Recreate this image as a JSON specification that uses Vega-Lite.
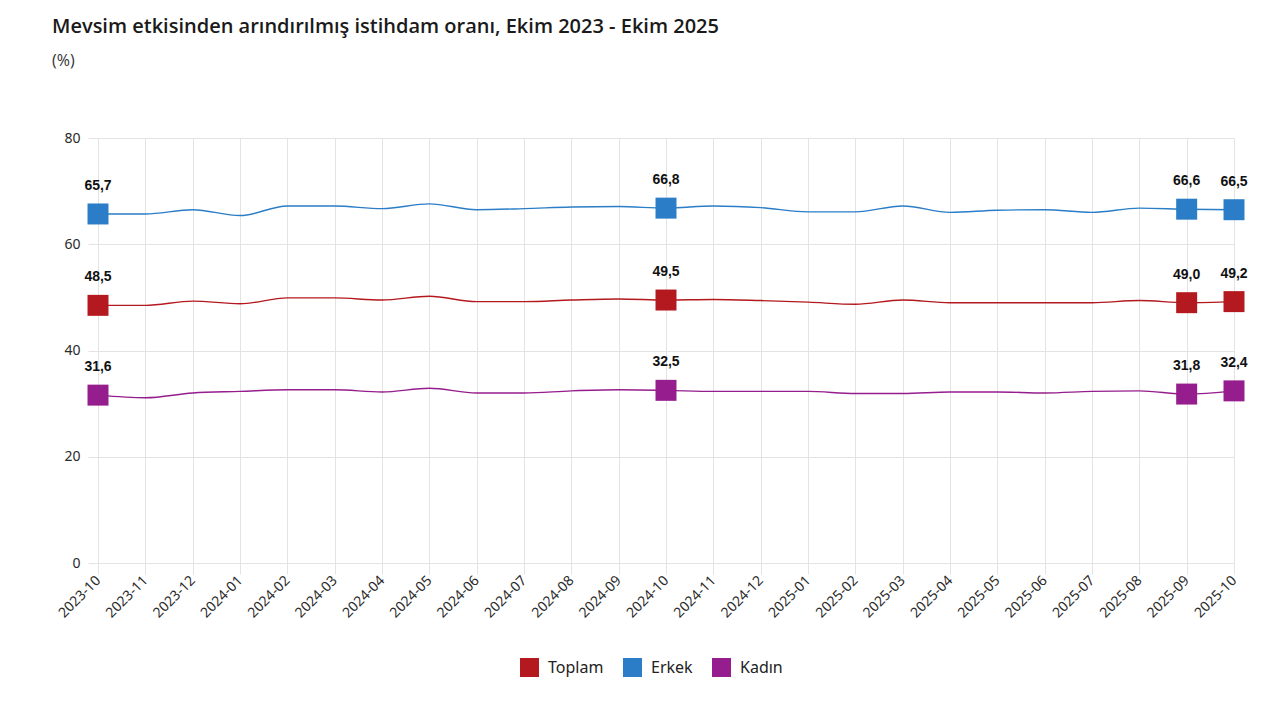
{
  "$schema": "https://vega.github.io/schema/vega-lite/v6.json",
  "autosize": {"type": "none"},
  "padding": {"left": 98, "top": 138, "right": 46, "bottom": 140},
  "width": 1136,
  "height": 425,
  "background": "white",
  "title": {
    "text": "Mevsim etkisinden arındırılmış istihdam oranı, Ekim 2023 - Ekim 2025",
    "subtitle": "(%)",
    "anchor": "start",
    "frame": "group",
    "dx": -46,
    "offset": 62,
    "font": "Open Sans",
    "fontSize": 20,
    "fontWeight": 600,
    "color": "#1a1a1a",
    "subtitleFont": "Open Sans",
    "subtitleFontSize": 16,
    "subtitleColor": "#333333",
    "subtitlePadding": 16
  },
  "data": {
    "values": [
      {"ay": "2023-10", "seri": "Toplam", "deger": 48.5},
      {"ay": "2023-11", "seri": "Toplam", "deger": 48.5},
      {"ay": "2023-12", "seri": "Toplam", "deger": 49.3},
      {"ay": "2024-01", "seri": "Toplam", "deger": 48.8},
      {"ay": "2024-02", "seri": "Toplam", "deger": 49.9},
      {"ay": "2024-03", "seri": "Toplam", "deger": 49.9},
      {"ay": "2024-04", "seri": "Toplam", "deger": 49.5},
      {"ay": "2024-05", "seri": "Toplam", "deger": 50.2},
      {"ay": "2024-06", "seri": "Toplam", "deger": 49.2},
      {"ay": "2024-07", "seri": "Toplam", "deger": 49.2},
      {"ay": "2024-08", "seri": "Toplam", "deger": 49.5},
      {"ay": "2024-09", "seri": "Toplam", "deger": 49.7},
      {"ay": "2024-10", "seri": "Toplam", "deger": 49.5},
      {"ay": "2024-11", "seri": "Toplam", "deger": 49.6},
      {"ay": "2024-12", "seri": "Toplam", "deger": 49.4},
      {"ay": "2025-01", "seri": "Toplam", "deger": 49.1},
      {"ay": "2025-02", "seri": "Toplam", "deger": 48.7},
      {"ay": "2025-03", "seri": "Toplam", "deger": 49.5},
      {"ay": "2025-04", "seri": "Toplam", "deger": 49.0},
      {"ay": "2025-05", "seri": "Toplam", "deger": 49.0},
      {"ay": "2025-06", "seri": "Toplam", "deger": 49.0},
      {"ay": "2025-07", "seri": "Toplam", "deger": 49.0},
      {"ay": "2025-08", "seri": "Toplam", "deger": 49.4},
      {"ay": "2025-09", "seri": "Toplam", "deger": 49.0},
      {"ay": "2025-10", "seri": "Toplam", "deger": 49.2},
      {"ay": "2023-10", "seri": "Erkek", "deger": 65.7},
      {"ay": "2023-11", "seri": "Erkek", "deger": 65.7},
      {"ay": "2023-12", "seri": "Erkek", "deger": 66.5},
      {"ay": "2024-01", "seri": "Erkek", "deger": 65.4},
      {"ay": "2024-02", "seri": "Erkek", "deger": 67.2},
      {"ay": "2024-03", "seri": "Erkek", "deger": 67.2},
      {"ay": "2024-04", "seri": "Erkek", "deger": 66.7},
      {"ay": "2024-05", "seri": "Erkek", "deger": 67.6},
      {"ay": "2024-06", "seri": "Erkek", "deger": 66.5},
      {"ay": "2024-07", "seri": "Erkek", "deger": 66.7},
      {"ay": "2024-08", "seri": "Erkek", "deger": 67.0},
      {"ay": "2024-09", "seri": "Erkek", "deger": 67.1},
      {"ay": "2024-10", "seri": "Erkek", "deger": 66.8},
      {"ay": "2024-11", "seri": "Erkek", "deger": 67.2},
      {"ay": "2024-12", "seri": "Erkek", "deger": 66.9},
      {"ay": "2025-01", "seri": "Erkek", "deger": 66.1},
      {"ay": "2025-02", "seri": "Erkek", "deger": 66.1},
      {"ay": "2025-03", "seri": "Erkek", "deger": 67.2},
      {"ay": "2025-04", "seri": "Erkek", "deger": 66.0},
      {"ay": "2025-05", "seri": "Erkek", "deger": 66.4},
      {"ay": "2025-06", "seri": "Erkek", "deger": 66.5},
      {"ay": "2025-07", "seri": "Erkek", "deger": 66.0},
      {"ay": "2025-08", "seri": "Erkek", "deger": 66.8},
      {"ay": "2025-09", "seri": "Erkek", "deger": 66.6},
      {"ay": "2025-10", "seri": "Erkek", "deger": 66.5},
      {"ay": "2023-10", "seri": "Kadın", "deger": 31.6},
      {"ay": "2023-11", "seri": "Kadın", "deger": 31.1},
      {"ay": "2023-12", "seri": "Kadın", "deger": 32.0},
      {"ay": "2024-01", "seri": "Kadın", "deger": 32.3},
      {"ay": "2024-02", "seri": "Kadın", "deger": 32.6},
      {"ay": "2024-03", "seri": "Kadın", "deger": 32.6},
      {"ay": "2024-04", "seri": "Kadın", "deger": 32.2},
      {"ay": "2024-05", "seri": "Kadın", "deger": 32.9},
      {"ay": "2024-06", "seri": "Kadın", "deger": 32.0},
      {"ay": "2024-07", "seri": "Kadın", "deger": 32.0},
      {"ay": "2024-08", "seri": "Kadın", "deger": 32.4},
      {"ay": "2024-09", "seri": "Kadın", "deger": 32.6},
      {"ay": "2024-10", "seri": "Kadın", "deger": 32.5},
      {"ay": "2024-11", "seri": "Kadın", "deger": 32.3},
      {"ay": "2024-12", "seri": "Kadın", "deger": 32.3},
      {"ay": "2025-01", "seri": "Kadın", "deger": 32.3},
      {"ay": "2025-02", "seri": "Kadın", "deger": 31.9},
      {"ay": "2025-03", "seri": "Kadın", "deger": 31.9},
      {"ay": "2025-04", "seri": "Kadın", "deger": 32.2},
      {"ay": "2025-05", "seri": "Kadın", "deger": 32.2},
      {"ay": "2025-06", "seri": "Kadın", "deger": 32.0},
      {"ay": "2025-07", "seri": "Kadın", "deger": 32.3},
      {"ay": "2025-08", "seri": "Kadın", "deger": 32.4},
      {"ay": "2025-09", "seri": "Kadın", "deger": 31.8},
      {"ay": "2025-10", "seri": "Kadın", "deger": 32.4}
    ]
  },
  "encoding": {
    "x": {
      "field": "ay",
      "type": "ordinal",
      "sort": null,
      "title": null,
      "scale": {"type": "point", "padding": 0},
      "axis": {
        "labelAngle": -45,
        "labelAlign": "right",
        "labelBaseline": "middle",
        "labelFont": "Noto Sans",
        "labelFontSize": 14,
        "labelColor": "#2a2a2a",
        "labelPadding": 4,
        "grid": true,
        "gridColor": "#e3e3e3",
        "domain": false,
        "tickColor": "#e3e3e3",
        "tickSize": 11
      }
    },
    "y": {
      "field": "deger",
      "type": "quantitative",
      "title": null,
      "scale": {"domain": [0, 80], "nice": false, "zero": true},
      "axis": {
        "values": [0, 20, 40, 60, 80],
        "labelFont": "Noto Sans",
        "labelFontSize": 14,
        "labelColor": "#2a2a2a",
        "labelPadding": 8,
        "grid": true,
        "gridColor": "#e3e3e3",
        "domain": false,
        "tickColor": "#e3e3e3",
        "tickSize": 10
      }
    }
  },
  "resolve": {"legend": {"color": "independent"}},
  "layer": [
    {
      "mark": {"type": "line", "interpolate": "monotone", "strokeWidth": 1.4},
      "encoding": {
        "color": {
          "field": "seri",
          "type": "nominal",
          "scale": {
            "domain": ["Toplam", "Erkek", "Kadın"],
            "range": ["#b3191e", "#2a7dc6", "#951d8d"]
          },
          "legend": null
        }
      }
    },
    {
      "transform": [
        {"filter": {"field": "ay", "oneOf": ["2023-10", "2024-10", "2025-09", "2025-10"]}}
      ],
      "mark": {"type": "square", "opacity": 1, "size": 440},
      "encoding": {
        "color": {
          "field": "seri",
          "type": "nominal",
          "scale": {
            "domain": ["Toplam", "Erkek", "Kadın"],
            "range": ["#b3191e", "#2a7dc6", "#951d8d"]
          },
          "legend": {
            "title": null,
            "orient": "none",
            "direction": "horizontal",
            "legendX": 422,
            "legendY": 520,
            "symbolType": "square",
            "symbolSize": 361,
            "symbolOpacity": 1,
            "symbolStrokeWidth": 0,
            "labelFont": "Noto Sans",
            "labelFontSize": 16,
            "labelColor": "#222222",
            "labelOffset": 9,
            "columnPadding": 19
          }
        }
      }
    },
    {
      "transform": [
        {"filter": {"field": "ay", "oneOf": ["2023-10", "2024-10", "2025-09", "2025-10"]}},
        {"calculate": "replace(format(datum.deger, '.1f'), '.', ',')", "as": "etiket"}
      ],
      "mark": {
        "type": "text",
        "dy": -28,
        "font": "Liberation Sans",
        "fontSize": 14,
        "fontWeight": "bold",
        "color": "#111111"
      },
      "encoding": {
        "text": {"field": "etiket"}
      }
    }
  ],
  "config": {
    "view": {"stroke": null}
  }
}
